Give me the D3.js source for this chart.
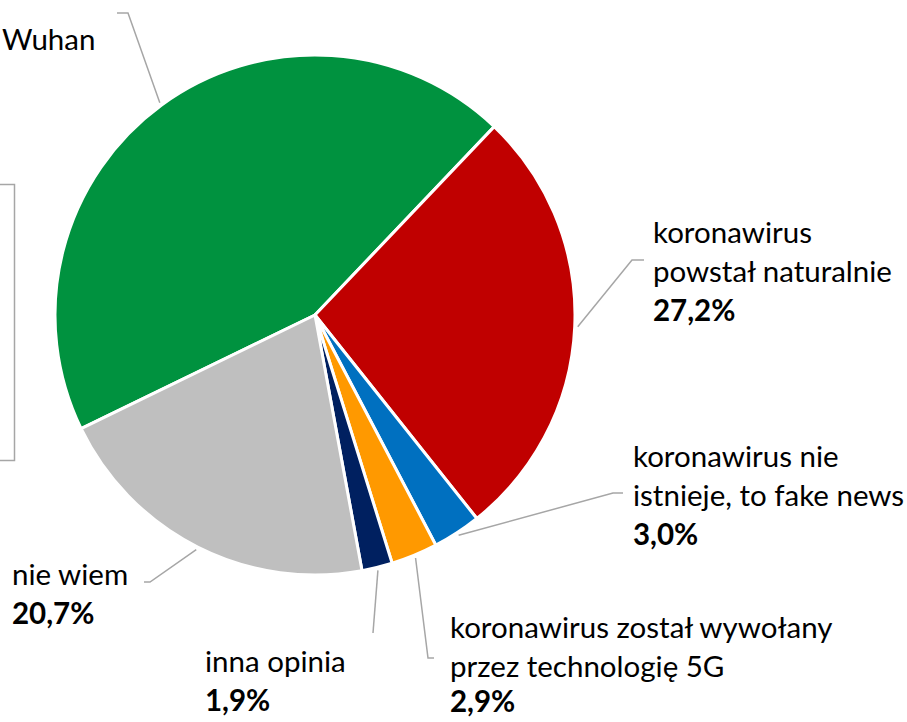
<!DOCTYPE html>
<html lang="pl">
  <head>
    <meta charset="UTF-8" />
    <title>Pochodzenie koronawirusa</title>
    <script src="https://d3js.org/d3.v7.min.js"></script>
    <style>
      body {
        margin: 0;
        padding: 0;
        background: #ffffff;
        overflow: hidden;
      }
      text {
        font-family: Lato, "Open Sans", sans-serif;
        font-size: 29.5px;
        fill: #000000;
      }
      text .pct {
        font-weight: bold;
      }
    </style>
  </head>
  <body>
    <svg id="chart" width="907" height="722"></svg>

    <script>
      // slices, clockwise, starting with the green one
      var categories = [
        "koronawirus powstał w Wuhan",
        "koronawirus powstał naturalnie",
        "koronawirus nie istnieje, to fake news",
        "koronawirus został wywołany przez technologię 5G",
        "inna opinia",
        "nie wiem"
      ];
      var values = [44.3, 27.2, 3.0, 2.9, 1.9, 20.7];
      var colors = ["#00923f", "#c00000", "#0070c0", "#ff9900", "#002060", "#bfbfbf"];

      // label text as it is broken into lines
      var labelLines = [
        ["Wuhan"],
        ["koronawirus", "powstał naturalnie"],
        ["koronawirus nie", "istnieje, to fake news"],
        ["koronawirus został wywołany", "przez technologię 5G"],
        ["inna opinia"],
        ["nie wiem"]
      ];
      // the green label is cut off by the frame, its value is not visible
      var showValue = [false, true, true, true, true, true];

      // label placement: text origin, leader elbow and leader end
      var labelLayout = [
        { x: 2, y: 50, elbow: [128, 13], end: [117, 13] },
        { x: 653, y: 243, elbow: [632, 260], end: [644, 260] },
        { x: 633, y: 467, elbow: [613, 493], end: [623, 493] },
        { x: 450, y: 638, elbow: [428, 658], end: [434, 658] },
        { x: 205, y: 672, elbow: [373, 633], end: [373, 633] },
        { x: 12, y: 585, elbow: [150, 582], end: [144, 582] }
      ];

      var svg = d3.select("#chart");
      var cx = 315,
        cy = 315,
        radius = 260,
        lineHeight = 39;

      // frame of the cut-off element at the left
      svg
        .append("rect")
        .attr("x", -10)
        .attr("y", 184.5)
        .attr("width", 24.5)
        .attr("height", 276)
        .attr("fill", "none")
        .attr("stroke", "#a6a6a6")
        .attr("stroke-width", 1.5);

      var data = values.map(function (v, i) {
        return { name: categories[i], value: v, i: i };
      });

      var start = (-115.9 * Math.PI) / 180;
      var pie = d3
        .pie()
        .sort(null)
        .value(function (d) {
          return d.value;
        })
        .startAngle(start)
        .endAngle(start + 2 * Math.PI);

      var arc = d3.arc().innerRadius(0).outerRadius(radius);
      var arcs = pie(data);

      var g = svg.append("g").attr("transform", "translate(" + cx + "," + cy + ")");

      g.selectAll("path")
        .data(arcs)
        .enter()
        .append("path")
        .attr("d", arc)
        .attr("fill", function (d) {
          return colors[d.data.i];
        })
        .attr("stroke", "#ffffff")
        .attr("stroke-width", 3)
        .attr("stroke-linejoin", "round");

      // leader lines
      var leaderStart = radius + 3;
      svg
        .selectAll("polyline.leader")
        .data(arcs)
        .enter()
        .append("polyline")
        .attr("class", "leader")
        .attr("fill", "none")
        .attr("stroke", "#a6a6a6")
        .attr("stroke-width", 1.5)
        .attr("points", function (d) {
          var a = (d.startAngle + d.endAngle) / 2;
          var L = labelLayout[d.data.i];
          var p0 = [cx + leaderStart * Math.sin(a), cy - leaderStart * Math.cos(a)];
          return [p0, L.elbow, L.end]
            .map(function (p) {
              return p.join(",");
            })
            .join(" ");
        });

      var fmt = function (v) {
        return d3.format(".1f")(v).replace(".", ",") + "%";
      };

      // labels
      arcs.forEach(function (d) {
        var i = d.data.i;
        var L = labelLayout[i];
        var t = svg.append("text").attr("x", L.x).attr("y", L.y);
        var lines = labelLines[i];
        lines.forEach(function (line, k) {
          t.append("tspan")
            .attr("x", L.x)
            .attr("dy", k === 0 ? 0 : lineHeight)
            .text(line);
        });
        if (showValue[i]) {
          t.append("tspan")
            .attr("class", "pct")
            .attr("x", L.x)
            .attr("dy", i === 3 ? lineHeight - 4 : lineHeight)
            .text(fmt(d.data.value));
        }
      });
    </script>
  </body>
</html>
